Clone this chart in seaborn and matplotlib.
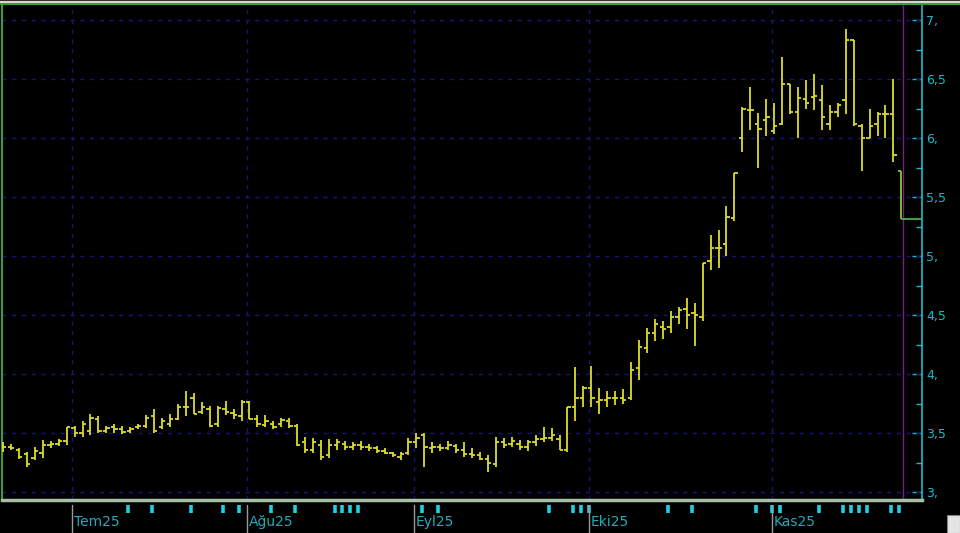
import numpy as np
import pandas as pd
import matplotlib
matplotlib.use("Agg")
import matplotlib.pyplot as plt
from matplotlib.patches import Rectangle
import seaborn as sns

# daily OHLC bars, late June 2025 -> late November 2025
opens = [
    3.40, 3.38, 3.36, 3.32, 3.29, 3.33, 3.40, 3.41, 3.43, 3.54,
    3.50, 3.52, 3.62, 3.52, 3.55, 3.53, 3.52, 3.55, 3.56, 3.64,
    3.55, 3.58, 3.62, 3.72, 3.80, 3.68, 3.70, 3.58, 3.70, 3.67,
    3.64, 3.76, 3.62, 3.57, 3.58, 3.58, 3.60, 3.56, 3.42, 3.36,
    3.40, 3.31, 3.40, 3.41, 3.38, 3.40, 3.38, 3.37, 3.35, 3.33,
    3.30, 3.33, 3.42, 3.48, 3.37, 3.38, 3.37, 3.39, 3.36, 3.32,
    3.31, 3.28, 3.24, 3.42, 3.41, 3.41, 3.38, 3.42, 3.45, 3.46,
    3.45, 3.36, 3.72, 3.80, 3.88, 3.76, 3.78, 3.80, 3.80, 3.80,
    4.05, 4.22, 4.35, 4.40, 4.40, 4.48, 4.55, 4.52, 4.48, 4.96,
    5.07, 5.10, 5.32, 6.00, 6.24, 6.12, 6.15, 6.06, 6.12, 6.46,
    6.22, 6.33, 6.35, 6.32, 6.12, 6.22, 6.32, 6.83, 6.10, 6.00,
    6.12, 6.20, 6.20, 5.72]
highs = [
    3.42, 3.41, 3.37, 3.34, 3.38, 3.44, 3.43, 3.45, 3.55, 3.56,
    3.60, 3.66, 3.64, 3.56, 3.58, 3.56, 3.55, 3.58, 3.65, 3.70,
    3.63, 3.66, 3.75, 3.86, 3.84, 3.76, 3.73, 3.73, 3.77, 3.70,
    3.78, 3.77, 3.65, 3.65, 3.60, 3.63, 3.63, 3.58, 3.47, 3.46,
    3.44, 3.45, 3.45, 3.43, 3.42, 3.43, 3.41, 3.39, 3.37, 3.34,
    3.34, 3.46, 3.50, 3.50, 3.42, 3.41, 3.43, 3.41, 3.42, 3.37,
    3.34, 3.31, 3.47, 3.46, 3.47, 3.44, 3.44, 3.48, 3.55, 3.54,
    3.48, 3.72, 4.06, 3.90, 4.07, 3.88, 3.86, 3.86, 3.87, 4.10,
    4.29, 4.39, 4.47, 4.45, 4.53, 4.57, 4.64, 4.60, 4.94, 5.18,
    5.22, 5.42, 5.70, 6.26, 6.43, 6.21, 6.33, 6.30, 6.69, 6.46,
    6.43, 6.49, 6.54, 6.45, 6.28, 6.30, 6.92, 6.83, 6.12, 6.25,
    6.22, 6.28, 6.50, 5.72]
lows = [
    3.34, 3.36, 3.28, 3.21, 3.27, 3.29, 3.37, 3.39, 3.40, 3.47,
    3.47, 3.48, 3.50, 3.50, 3.50, 3.49, 3.50, 3.53, 3.54, 3.50,
    3.53, 3.55, 3.61, 3.64, 3.66, 3.66, 3.55, 3.55, 3.65, 3.62,
    3.60, 3.62, 3.55, 3.55, 3.53, 3.55, 3.54, 3.39, 3.33, 3.33,
    3.27, 3.29, 3.36, 3.36, 3.36, 3.36, 3.35, 3.33, 3.32, 3.30,
    3.27, 3.31, 3.37, 3.21, 3.33, 3.35, 3.36, 3.33, 3.30, 3.29,
    3.27, 3.17, 3.21, 3.37, 3.38, 3.36, 3.35, 3.39, 3.42, 3.43,
    3.36, 3.34, 3.60, 3.72, 3.72, 3.66, 3.72, 3.74, 3.75, 3.78,
    3.95, 4.18, 4.28, 4.30, 4.35, 4.42, 4.38, 4.24, 4.45, 4.88,
    4.90, 5.00, 5.30, 5.88, 6.07, 5.75, 6.02, 6.03, 6.11, 6.20,
    6.00, 6.25, 6.24, 6.07, 6.07, 6.18, 6.20, 6.10, 5.72, 6.00,
    6.02, 6.00, 5.80, 5.31]
closes = [
    3.38, 3.37, 3.30, 3.24, 3.35, 3.40, 3.41, 3.43, 3.55, 3.50,
    3.58, 3.63, 3.52, 3.54, 3.53, 3.51, 3.53, 3.56, 3.63, 3.52,
    3.60, 3.62, 3.72, 3.72, 3.66, 3.72, 3.56, 3.71, 3.68, 3.65,
    3.76, 3.62, 3.58, 3.60, 3.55, 3.61, 3.56, 3.40, 3.36, 3.42,
    3.30, 3.40, 3.42, 3.38, 3.40, 3.38, 3.37, 3.35, 3.33, 3.31,
    3.32, 3.42, 3.46, 3.38, 3.38, 3.37, 3.40, 3.36, 3.32, 3.31,
    3.28, 3.25, 3.42, 3.40, 3.43, 3.38, 3.42, 3.45, 3.46, 3.48,
    3.36, 3.72, 3.80, 3.88, 3.80, 3.78, 3.80, 3.80, 3.78, 4.03,
    4.23, 4.35, 4.42, 4.38, 4.48, 4.54, 4.50, 4.50, 4.94, 5.07,
    5.07, 5.33, 5.70, 6.25, 6.24, 6.08, 6.18, 6.10, 6.46, 6.22,
    6.34, 6.30, 6.36, 6.18, 6.22, 6.28, 6.83, 6.12, 6.00, 6.10,
    6.20, 6.20, 5.86, 5.31]

month_labels = ["Tem25", "Ağu25", "Eyl25", "Eki25", "Kas25"]
month_starts = [9, 31, 52, 74, 97]          # bar index of first day of month
event_bars = [16, 19, 24, 28, 30, 34, 37, 42, 43, 44, 45, 53, 55, 69, 72, 73, 74,
              84, 87, 95, 97, 98, 103, 106, 107, 108, 109, 112, 113]
price_ticks = [3, 3.5, 4, 4.5, 5, 5.5, 6, 6.5, 7]
price_labels = ["3,", "3,5", "4,", "4,5", "5,", "5,5", "6,", "6,5", "7,"]

df = pd.DataFrame({"open": opens, "high": highs, "low": lows, "close": closes})
df["bar"] = np.arange(len(df))

sns.set_theme(style="dark", rc={"axes.facecolor": "black", "figure.facecolor": "black",
                                "axes.grid": False})
plt.rcParams["font.family"] = ["DejaVu Sans"]

W, H = 960, 533
bar_px = 7.95      # pixel spacing of the daily bars
x0_px = 3          # pixel position of first bar
yellow = "#dcdc2a"
cyan = "#20b8c8"
grid_col = "#16167a"

fig = plt.figure(figsize=(W / 100, H / 100), dpi=100)
fig.patch.set_facecolor("black")

# price panel
ax = fig.add_axes([2 / W, 33 / H, 920 / W, 495 / H])
ax.set_facecolor("black")
ax.set_xlim((2 - x0_px) / bar_px, (922 - x0_px) / bar_px)
ax.set_ylim(3 - 8 / 118, 7 + 15 / 118)

for p in price_ticks:
    ax.axhline(p, color=grid_col, lw=1, ls=(0, (3, 4)), zorder=1)
for m in month_starts:
    ax.axvline(m - 0.3, color=grid_col, lw=1, ls=(0, (3, 4)), zorder=1)

last = len(df) - 1
hist = df.iloc[:last]
tick = 0.42
ax.vlines(hist["bar"], hist["low"], hist["high"], color=yellow, lw=1.3, zorder=3)
ax.hlines(hist["open"], hist["bar"] - tick, hist["bar"], color=yellow, lw=1.3, zorder=3)
ax.hlines(hist["close"], hist["bar"], hist["bar"] + tick, color=yellow, lw=1.3, zorder=3)

# current bar + last price marker
ax.axvline(last + 0.2, color="#7a1f7a", lw=1, zorder=2)
cur = df.iloc[last]
ax.vlines(cur["bar"], cur["low"], cur["high"], color="#8cc83c", lw=1.3, zorder=4)
ax.hlines(cur["open"], cur["bar"] - tick, cur["bar"], color="#8cc83c", lw=1.3, zorder=4)
ax.hlines(cur["close"], cur["bar"], ax.get_xlim()[1], color="#4cb04c", lw=1.3, zorder=4)

ax.yaxis.tick_right()
ax.set_yticks(price_ticks, price_labels)
ax.set_yticks([(a + b) / 2 for a, b in zip(price_ticks[:-1], price_ticks[1:])], minor=True)
ax.tick_params(axis="y", which="major", direction="in", length=7.5, width=1, color=cyan,
               labelcolor=cyan, labelsize=9, pad=3, right=True, left=False)
ax.tick_params(axis="y", which="minor", direction="in", length=4.5, width=1, color=cyan,
               right=True, left=False)
ax.set_xticks([])
ax.spines["right"].set_color(cyan)
ax.spines["right"].set_linewidth(1.2)
ax.spines["left"].set_color("#3c9c3c")
ax.spines["left"].set_linewidth(1.5)
ax.spines["top"].set_visible(False)
ax.spines["bottom"].set_color("#a8c0a8")
ax.spines["bottom"].set_linewidth(2.5)

# date band under the chart
band = fig.add_axes([2 / W, 0, 920 / W, 30 / H])
band.set_facecolor("black")
band.set_xlim(ax.get_xlim())
band.set_ylim(0, 1)
band.axis("off")
for m, lab in zip(month_starts, month_labels):
    band.axvline(m - 0.3, ymin=0, ymax=0.93, color="#9a9a9a", lw=1)
    band.text(m - 0.05, 0.38, lab, color="#28a8b8", fontsize=10, va="center", ha="left")
sns.scatterplot(x=np.array(event_bars) - 0.3, y=[0.8] * len(event_bars), marker="|",
                s=26, linewidth=2.6, color="#20d0e0", ax=band, legend=False)

# window frame bits
fig.add_artist(plt.Line2D([0, 1], [1 - 1.5 / H] * 2, color="#d8d8d8", lw=2.5,
                          transform=fig.transFigure))
fig.add_artist(plt.Line2D([0, 1], [1 - 4 / H] * 2, color="#3c9c3c", lw=1.5,
                          transform=fig.transFigure))
fig.add_artist(Rectangle((947 / W, 0), 13 / W, 18 / H, transform=fig.transFigure,
                         facecolor="#e4e4e4", edgecolor="#808080", lw=0.8))

fig.savefig("out.png", dpi=100, facecolor="black")
